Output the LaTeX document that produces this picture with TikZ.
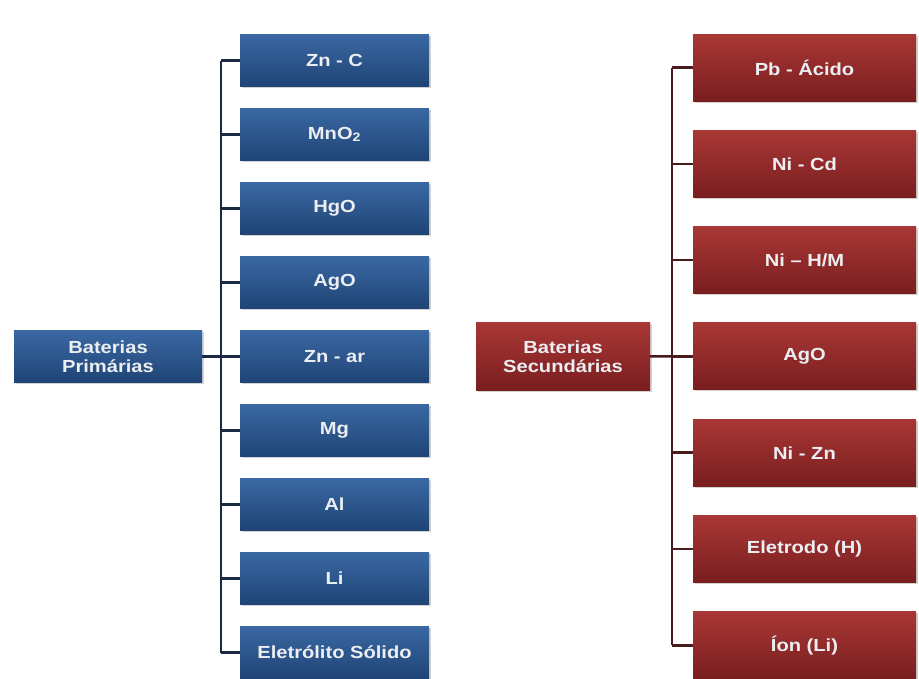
\documentclass[tikz,border=0pt]{standalone}
\usepackage{fontspec}
\setmainfont[FakeStretch=1.15]{Liberation Sans}
\usepackage{xcolor}
\usetikzlibrary{shadows}

\definecolor{azulTopo}{HTML}{3A68A3}
\definecolor{azulBase}{HTML}{1F4475}
\definecolor{azulLinha}{HTML}{1B2A44}
\definecolor{vermTopo}{HTML}{A83735}
\definecolor{vermBase}{HTML}{7A1E1F}
\definecolor{vermLinha}{HTML}{4A1B1C}
\definecolor{texto}{HTML}{ECEEF2}

\tikzset{
    caixa/.style={draw=none, text=texto, align=center, inner sep=0pt,
        font=\fontsize{17.5}{19}\selectfont\bfseries,
        drop shadow={opacity=0.35, shadow xshift=1.5pt, shadow yshift=-1.5pt}},
    azul/.style={caixa, top color=azulTopo, bottom color=azulBase},
    verm/.style={caixa, top color=vermTopo, bottom color=vermBase},
    ligaAzul/.style={draw=azulLinha, line width=2.6pt},
    ligaVerm/.style={draw=vermLinha, line width=2.6pt}
}

\begin{document}
\begin{tikzpicture}[x=1pt, y=-1pt]
    \useasboundingbox (0, 0) rectangle (919, 678);
    \fill[white] (0, 0) rectangle (919, 678);

    % baterias primarias
    \coordinate (espL) at (221, 0);
    \node[azul, minimum width=188pt, minimum height=52pt] (prim) at (108, 356.5)
        {Baterias\\Primárias};
    \foreach \nome/\rot [count=\i from 0] in {zc/Zn - C, mno/MnO\textsubscript{2},
            hgo/HgO, agoL/AgO, zar/Zn - ar, mg/Mg, al/Al, li/Li, es/Eletrólito Sólido} {
        \node[azul, minimum width=189pt, minimum height=52pt] (\nome)
            at (334.5, 60.5 + 74*\i) {\rot};
        \draw[ligaAzul] (\nome.west) -- (\nome.west -| espL);
    }
    \draw[ligaAzul] (zc.west -| espL) -- (es.west -| espL);
    \draw[ligaAzul] (prim.east) -- (zar.west);

    % baterias secundarias
    \coordinate (espR) at (672, 0);
    \node[verm, minimum width=174pt, minimum height=68pt] (sec) at (563, 356.4)
        {Baterias\\Secundárias};
    \foreach \nome/\rot [count=\i from 0] in {pb/Pb - Ácido, nicd/Ni - Cd,
            nihm/{Ni -- H/M}, agoR/AgO, nizn/Ni - Zn, ele/Eletrodo (H), ion/Íon (Li)} {
        \node[verm, minimum width=223pt, minimum height=67pt] (\nome)
            at (804.5, 67.5 + 96.3*\i) {\rot};
        \draw[ligaVerm] (\nome.west) -- (\nome.west -| espR);
    }
    \draw[ligaVerm] (pb.west -| espR) -- (ion.west -| espR);
    \draw[ligaVerm] (sec.east) -- (agoR.west);
\end{tikzpicture}
\end{document}
